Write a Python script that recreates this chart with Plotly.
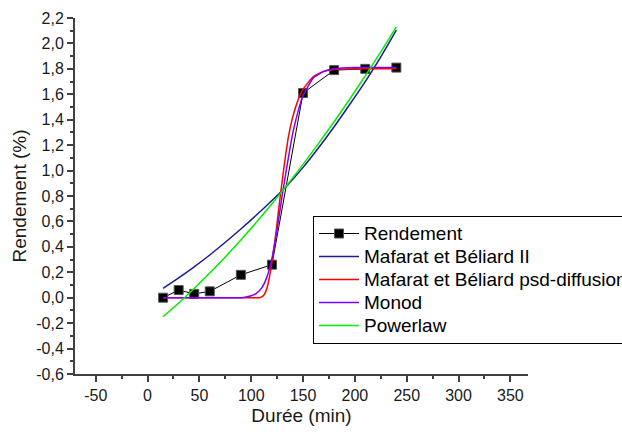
import plotly.graph_objects as go

# Measured data
duree = [15, 30, 45, 60, 90, 120, 150, 180, 210, 240]
rendement = [0.0, 0.06, 0.03, 0.05, 0.18, 0.26, 1.61, 1.79, 1.80, 1.81]

# Fitted curves
fit_x = [15, 30, 45, 60, 75, 90, 105, 120, 135, 150, 165, 180, 195, 210, 225, 240]
mb2_y = [0.074, 0.156, 0.243, 0.336, 0.436, 0.540, 0.650, 0.765, 0.885, 1.025,
         1.180, 1.345, 1.520, 1.700, 1.895, 2.105]
pl_y = [-0.150, -0.042, 0.073, 0.194, 0.321, 0.454, 0.593, 0.739, 0.891, 1.049,
        1.214, 1.384, 1.561, 1.745, 1.934, 2.130]

psd_x = [15, 60, 100, 108, 111, 113, 116, 120, 124, 128, 132, 136, 140, 145, 150, 160, 170, 180, 200, 240]
psd_y = [0.0, 0.0, 0.0, 0.0, 0.01, 0.03, 0.10, 0.28, 0.52, 0.80, 1.05, 1.27, 1.42, 1.55, 1.64, 1.74, 1.78, 1.795, 1.80, 1.80]

monod_x = [15, 60, 90, 95, 100, 105, 110, 115, 120, 125, 130, 135, 140, 145, 150, 160, 170, 180, 200, 240]
monod_y = [0.0, 0.0, 0.0, 0.005, 0.015, 0.035, 0.075, 0.16, 0.31, 0.54, 0.81, 1.06, 1.29, 1.46, 1.59, 1.73, 1.78, 1.80, 1.81, 1.81]

series_names = ["Rendement", "Mafarat et Béliard II", "Mafarat et Béliard psd-diffusion",
                "Monod", "Powerlaw"]

x_tickvals = [-50, 0, 50, 100, 150, 200, 250, 300, 350]
x_ticktext = ["-50", "0", "50", "100", "150", "200", "250", "300", "350"]
y_tickvals = [-0.6, -0.4, -0.2, 0.0, 0.2, 0.4, 0.6, 0.8, 1.0, 1.2, 1.4, 1.6, 1.8, 2.0, 2.2]
y_ticktext = ["-0,6", "-0,4", "-0,2", "0,0", "0,2", "0,4", "0,6", "0,8", "1,0", "1,2",
              "1,4", "1,6", "1,8", "2,0", "2,2"]

font = "Arial, Liberation Sans, sans-serif"
txt = "#1a1a1a"


def lg(name):
    return '<span style="font-size:19px">' + name + "</span>"


fig = go.Figure()
fig.add_trace(go.Scatter(x=duree, y=rendement, mode="lines+markers", name=lg(series_names[0]),
                         line=dict(color="black", width=1),
                         marker=dict(symbol="square", size=9, color="black",
                                     line=dict(color="#555555", width=1))))
fig.add_trace(go.Scatter(x=fit_x, y=mb2_y, mode="lines", name=lg(series_names[1]),
                         line=dict(color="#1c1c8f", width=1.5, shape="spline", smoothing=0.6)))
fig.add_trace(go.Scatter(x=psd_x, y=psd_y, mode="lines", name=lg(series_names[2]),
                         line=dict(color="#ff0000", width=1.5, shape="spline", smoothing=0.4)))
fig.add_trace(go.Scatter(x=monod_x, y=monod_y, mode="lines", name=lg(series_names[3]),
                         line=dict(color="#8000ff", width=1.5, shape="spline", smoothing=0.4)))
fig.add_trace(go.Scatter(x=fit_x, y=pl_y, mode="lines", name=lg(series_names[4]),
                         line=dict(color="#00ee00", width=1.5, shape="spline", smoothing=0.6)))

axis_common = dict(showgrid=False, zeroline=False, showline=True, linecolor="#404040",
                   linewidth=2, ticks="outside", tickcolor="#404040", tickwidth=1.5,
                   ticklen=6, tickfont=dict(family=font, size=16, color=txt),
                   mirror=False)

fig.update_xaxes(range=[-70, 367], tickvals=x_tickvals, ticktext=x_ticktext,
                 title=dict(text="Durée (min)", font=dict(family=font, size=19, color=txt),
                            standoff=5),
                 minor=dict(ticks="outside", ticklen=3, dtick=25, tick0=0,
                            tickcolor="#404040", tickwidth=1.5),
                 **axis_common)
fig.update_yaxes(range=[-0.6, 2.2], tickvals=y_tickvals, ticktext=y_ticktext,
                 title=dict(text="Rendement (%)", font=dict(family=font, size=19, color=txt),
                            standoff=5),
                 minor=dict(ticks="outside", ticklen=3, dtick=0.1, tick0=0,
                            tickcolor="#404040", tickwidth=1.5),
                 **axis_common)

fig.update_layout(
    width=622, height=435,
    margin=dict(l=75, r=94, t=18, b=61, autoexpand=False),
    plot_bgcolor="white", paper_bgcolor="white",
    showlegend=True,
    legend=dict(x=(313 - 75) / 453, y=(374 - 216) / 356, xanchor="left", yanchor="top",
                bgcolor="white", bordercolor="black", borderwidth=1,
                font=dict(family=font, size=15.4, color="black"),
                tracegroupgap=0, itemwidth=40),
)

fig.write_html("out.html")
